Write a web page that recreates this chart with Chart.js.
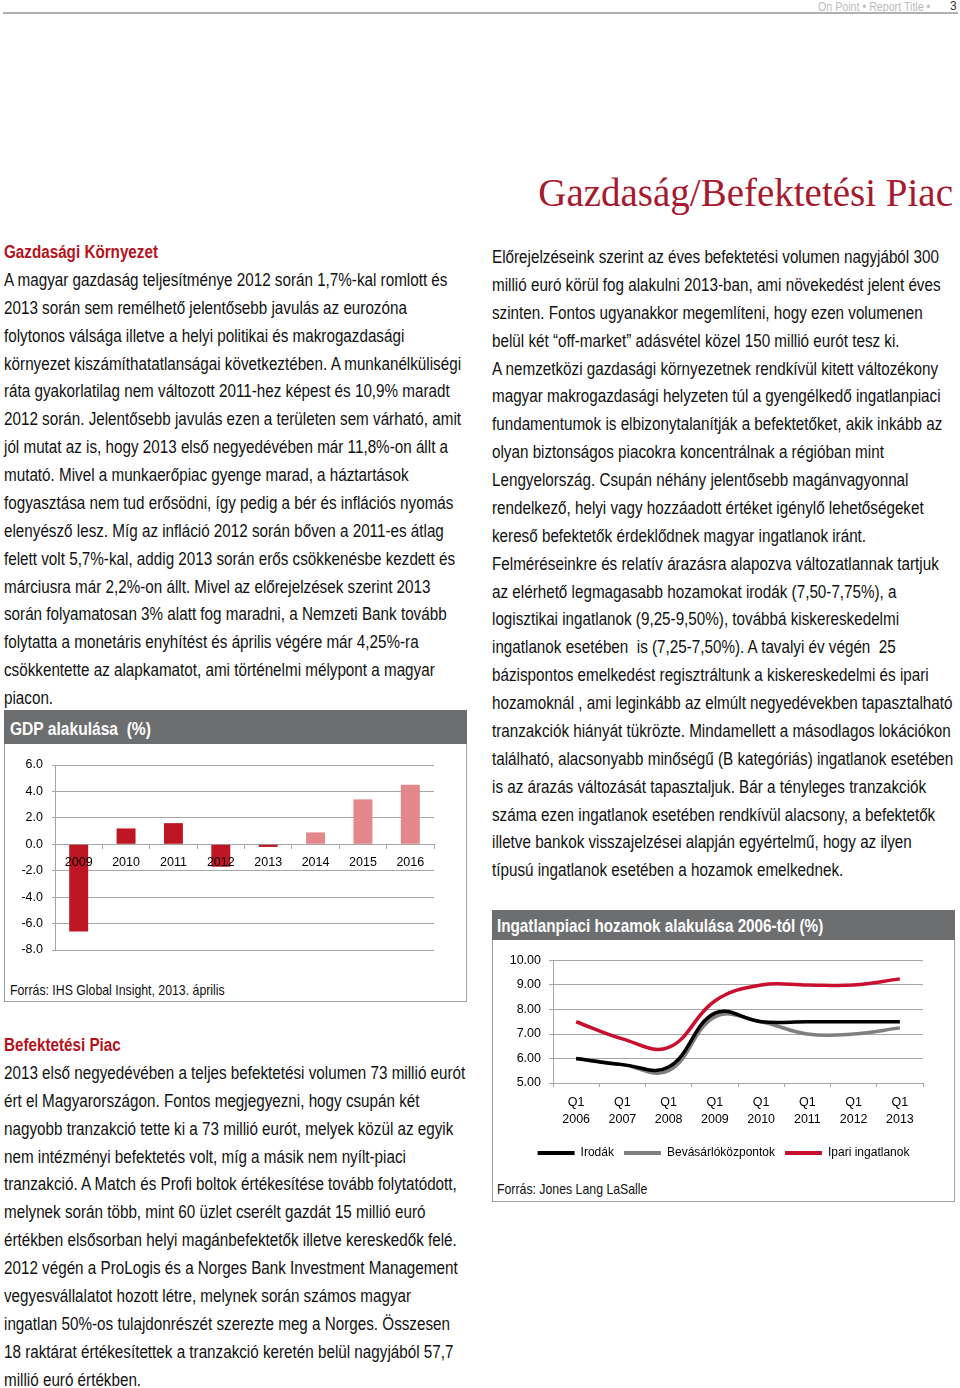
<!DOCTYPE html>
<html>
<head>
<meta charset="utf-8">
<script src="https://cdn.jsdelivr.net/npm/chart.js@4.4.1/dist/chart.umd.min.js"></script>
<style>
body { margin: 0; width: 960px; height: 1388px; background: #fff; position: relative; overflow: hidden;
  font-family: 'Liberation Sans', Arial, sans-serif; color: #111; }
.abs { position: absolute; white-space: nowrap; }
/* Arial Narrow is not installed: squeeze Liberation Sans instead */
.nar { transform: scaleX(0.82); transform-origin: 0 0; }
.txt { position: absolute; font-size: 17.5px; line-height: 27.875px; transform: scaleX(0.87); transform-origin: 0 0; }
.txt div { white-space: nowrap; }
.head { color: #B5121B; font-weight: bold; }
.box { position: absolute; border: 1.5px solid #a0a0a0; box-sizing: border-box; }
.bar { position: absolute; background: #6d6e70; box-sizing: border-box; }
.bar span { position: absolute; color: #fff; font-weight: bold; white-space: nowrap; transform: scaleX(0.82); transform-origin: 0 0; }
</style>
</head>
<body>
<div class="abs nar" style="left:818px;top:-1px;font-size:13px;color:#bdbdbd;">On Point • Report Title •</div>
<div class="abs" style="left:950px;top:-1px;font-size:12px;color:#333;">3</div>
<div class="abs" style="left:3px;top:12px;width:955px;height:2px;background:#b0b0b0;"></div>

<div class="abs" style="right:7px;top:170px;font-family:'Liberation Serif','Times New Roman',serif;font-size:39px;color:#A6192E;">Gazdaság/Befektetési Piac</div>

<div class="txt" style="left:4px;top:239px;">
<div class="head">Gazdasági Környezet</div>
<div>A magyar gazdaság teljesítménye 2012 során 1,7%-kal romlott és</div>
<div>2013 során sem remélhető jelentősebb javulás az eurozóna</div>
<div>folytonos válsága illetve a helyi politikai és makrogazdasági</div>
<div>környezet kiszámíthatatlanságai következtében. A munkanélküliségi</div>
<div>ráta gyakorlatilag nem változott 2011-hez képest és 10,9% maradt</div>
<div>2012 során. Jelentősebb javulás ezen a területen sem várható, amit</div>
<div>jól mutat az is, hogy 2013 első negyedévében már 11,8%-on állt a</div>
<div>mutató. Mivel a munkaerőpiac gyenge marad, a háztartások</div>
<div>fogyasztása nem tud erősödni, így pedig a bér és inflációs nyomás</div>
<div>elenyésző lesz. Míg az infláció 2012 során bőven a 2011-es átlag</div>
<div>felett volt 5,7%-kal, addig 2013 során erős csökkenésbe kezdett és</div>
<div>márciusra már 2,2%-on állt. Mivel az előrejelzések szerint 2013</div>
<div>során folyamatosan 3% alatt fog maradni, a Nemzeti Bank tovább</div>
<div>folytatta a monetáris enyhítést és április végére már 4,25%-ra</div>
<div>csökkentette az alapkamatot, ami történelmi mélypont a magyar</div>
<div>piacon.</div>
</div>

<div class="txt" style="left:4px;top:1032px;">
<div class="head">Befektetési Piac</div>
<div>2013 első negyedévében a teljes befektetési volumen 73 millió eurót</div>
<div>ért el Magyarországon. Fontos megjegyezni, hogy csupán két</div>
<div>nagyobb tranzakció tette ki a 73 millió eurót, melyek közül az egyik</div>
<div>nem intézményi befektetés volt, míg a másik nem nyílt-piaci</div>
<div>tranzakció. A Match és Profi boltok értékesítése tovább folytatódott,</div>
<div>melynek során több, mint 60 üzlet cserélt gazdát 15 millió euró</div>
<div>értékben elsősorban helyi magánbefektetők illetve kereskedők felé.</div>
<div>2012 végén a ProLogis és a Norges Bank Investment Management</div>
<div>vegyesvállalatot hozott létre, melynek során számos magyar</div>
<div>ingatlan 50%-os tulajdonrészét szerezte meg a Norges. Összesen</div>
<div>18 raktárat értékesítettek a tranzakció keretén belül nagyjából 57,7</div>
<div>millió euró értékben.</div>
</div>

<div class="txt" style="left:492px;top:244px;">
<div>Előrejelzéseink szerint az éves befektetési volumen nagyjából 300</div>
<div>millió euró körül fog alakulni 2013-ban, ami növekedést jelent éves</div>
<div>szinten. Fontos ugyanakkor megemlíteni, hogy ezen volumenen</div>
<div>belül két “off-market” adásvétel közel 150 millió eurót tesz ki.</div>
<div>A nemzetközi gazdasági környezetnek rendkívül kitett változékony</div>
<div>magyar makrogazdasági helyzeten túl a gyengélkedő ingatlanpiaci</div>
<div>fundamentumok is elbizonytalanítják a befektetőket, akik inkább az</div>
<div>olyan biztonságos piacokra koncentrálnak a régióban mint</div>
<div>Lengyelország. Csupán néhány jelentősebb magánvagyonnal</div>
<div>rendelkező, helyi vagy hozzáadott értéket igénylő lehetőségeket</div>
<div>kereső befektetők érdeklődnek magyar ingatlanok iránt.</div>
<div>Felméréseinkre és relatív árazásra alapozva változatlannak tartjuk</div>
<div>az elérhető legmagasabb hozamokat irodák (7,50-7,75%), a</div>
<div>logisztikai ingatlanok (9,25-9,50%), továbbá kiskereskedelmi</div>
<div>ingatlanok esetében&nbsp; is (7,25-7,50%). A tavalyi év végén&nbsp; 25</div>
<div>bázispontos emelkedést regisztráltunk a kiskereskedelmi és ipari</div>
<div>hozamoknál , ami leginkább az elmúlt negyedévekben tapasztalható</div>
<div>tranzakciók hiányát tükrözte. Mindamellett a másodlagos lokációkon</div>
<div>található, alacsonyabb minőségű (B kategóriás) ingatlanok esetében</div>
<div>is az árazás változását tapasztaljuk. Bár a tényleges tranzakciók</div>
<div>száma ezen ingatlanok esetében rendkívül alacsony, a befektetők</div>
<div>illetve bankok visszajelzései alapján egyértelmű, hogy az ilyen</div>
<div>típusú ingatlanok esetében a hozamok emelkednek.</div>
</div>

<!-- GDP chart box -->
<div class="box" style="left:4px;top:710px;width:463px;height:292px;"></div>
<div class="bar" style="left:4px;top:710px;width:463px;height:34px;"><span style="left:6px;top:8px;font-size:19px;">GDP alakulása&nbsp; (%)</span></div>
<canvas id="gdp" class="abs" style="left:6px;top:748px;" width="456" height="220"></canvas>
<div class="abs nar" style="left:10px;top:981px;font-size:15px;">Forrás: IHS Global Insight, 2013. április</div>

<!-- yields chart box -->
<div class="box" style="left:492px;top:910px;width:463px;height:292px;"></div>
<div class="bar" style="left:492px;top:910px;width:463px;height:30px;"><span style="left:5px;top:5px;font-size:18.6px;">Ingatlanpiaci hozamok alakulása 2006-tól (%)</span></div>
<canvas id="yields" class="abs" style="left:495px;top:945px;" width="455" height="226"></canvas>
<div class="abs nar" style="left:497px;top:1180px;font-size:15px;">Forrás: Jones Lang LaSalle</div>

<script>
// GDP growth, %
var gdpYears = ['2009', '2010', '2011', '2012', '2013', '2014', '2015', '2016'];
var gdpValues = [-6.6, 1.2, 1.6, -1.7, -0.2, 0.9, 3.4, 4.5];
var gdpFirstForecast = '2014';
var gdpTicks = [6, 4, 2, 0, -2, -4, -6, -8];

// prime yields, %
var yieldLabels = [['Q1', '2006'], ['Q1', '2007'], ['Q1', '2008'], ['Q1', '2009'],
                   ['Q1', '2010'], ['Q1', '2011'], ['Q1', '2012'], ['Q1', '2013']];
var irodak = [6.0, 5.75, 5.65, 7.85, 7.5, 7.5, 7.5, 7.5];
var bevasarlo = [6.0, 5.75, 5.5, 7.7, 7.5, 7.0, 7.0, 7.25];
var ipari = [7.5, 6.8, 6.45, 8.35, 9.0, 9.0, 9.0, 9.25];
var yieldTicks = [10, 9, 8, 7, 6, 5];

Chart.defaults.font.family = "'Liberation Sans', Arial, sans-serif";
Chart.defaults.color = '#000';
Chart.defaults.animation = false;

var gridGray = '#a6a6a6';

var gdpCtx = document.getElementById('gdp').getContext('2d');
var gdpChart = new Chart(gdpCtx, {
    type: 'bar',
    data: {
        labels: gdpYears,
        datasets: [{
            data: gdpValues,
            backgroundColor: gdpYears.map(function(y) { return y >= gdpFirstForecast ? '#E3878B' : '#BE1622'; }),
            barPercentage: 0.4,
            categoryPercentage: 1
        }]
    },
    options: {
        responsive: false,
        devicePixelRatio: 1,
        layout: { padding: { left: 9, right: 28, top: 17, bottom: 18 } },
        plugins: { legend: { display: false }, tooltip: { enabled: false } },
        scales: {
            y: {
                min: Math.min.apply(null, gdpTicks),
                max: Math.max.apply(null, gdpTicks),
                afterFit: function(s) { s.width = 40; },
                afterBuildTicks: function(s) { s.ticks = gdpTicks.map(function(v) { return { value: v }; }); },
                ticks: { font: { size: 12.5 }, padding: 9, autoSkip: false, callback: function(v) { return v.toFixed(1); } },
                grid: { color: gridGray, tickLength: 3 },
                border: { color: gridGray }
            },
            x: {
                position: { y: 0 },
                grid: { drawOnChartArea: false, tickLength: 4, color: gridGray, offset: true },
                border: { color: gridGray },
                // year labels sit on top of the bars, as in the source
                ticks: { z: 1, font: { size: 12.5 }, padding: 7, maxRotation: 0, autoSkip: false }
            }
        }
    }
});

// the legend is centred on the whole box, not on the plot: keep a left padding
// for it and let the y labels draw into that padding
var yLabelRoom = {
    id: 'yLabelRoom',
    afterLayout: function(chart) { chart.scales.y.left -= 29; }
};

var yCtx = document.getElementById('yields').getContext('2d');
var yieldChart = new Chart(yCtx, {
    type: 'line',
    data: {
        labels: yieldLabels,
        datasets: [
            { label: 'Irodák', data: irodak, borderColor: '#000000', backgroundColor: '#000000' },
            { label: 'Bevásárlóközpontok', data: bevasarlo, borderColor: '#7f7f7f', backgroundColor: '#7f7f7f' },
            { label: 'Ipari ingatlanok', data: ipari, borderColor: '#C8102E', backgroundColor: '#C8102E' }
        ]
    },
    plugins: [yLabelRoom],
    options: {
        responsive: false,
        devicePixelRatio: 1,
        layout: { padding: { left: 29, right: 27, top: 14, bottom: 2 } },
        elements: {
            line: { borderWidth: 3.5, tension: 0.4, fill: false },
            point: { radius: 0 }
        },
        plugins: {
            tooltip: { enabled: false },
            legend: {
                position: 'bottom',
                labels: {
                    font: { size: 12 },
                    boxWidth: 37,
                    boxHeight: 4,
                    padding: 10,
                    generateLabels: function(chart) {
                        return chart.data.datasets.map(function(d, i) {
                            return { text: d.label, fillStyle: d.borderColor, strokeStyle: d.borderColor,
                                     lineWidth: 0, datasetIndex: i, hidden: false, fontColor: '#000' };
                        });
                    }
                }
            }
        },
        scales: {
            y: {
                min: Math.min.apply(null, yieldTicks),
                max: Math.max.apply(null, yieldTicks),
                afterFit: function(s) { s.width = 29; },
                afterBuildTicks: function(s) { s.ticks = yieldTicks.map(function(v) { return { value: v }; }); },
                ticks: { font: { size: 12.5 }, padding: 8, autoSkip: false, callback: function(v) { return v.toFixed(2); } },
                grid: { color: gridGray, tickLength: 4 },
                border: { color: gridGray }
            },
            x: {
                offset: true,
                afterFit: function(s) { s.height = 54; },
                grid: { drawOnChartArea: false, tickLength: 4, color: gridGray, offset: true },
                border: { color: gridGray },
                ticks: { font: { size: 12.5, lineHeight: 1.35 }, padding: 7, maxRotation: 0, autoSkip: false }
            }
        }
    }
});
</script>
</body>
</html>
